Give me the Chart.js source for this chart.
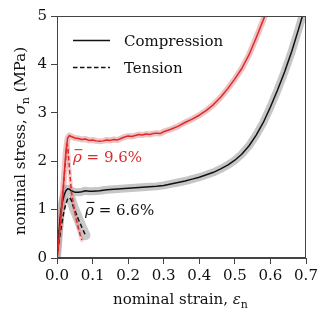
<!DOCTYPE html>
<html><head><meta charset="utf-8">
<script src="https://cdn.jsdelivr.net/npm/chart.js@4.4.1/dist/chart.umd.min.js"></script>
<style>html,body{margin:0;padding:0;background:#fff;overflow:hidden}</style>
</head><body>
<canvas id="c" width="326" height="323"></canvas>
<script>
// ---- data ----
const xTickLabels = ['0.0','0.1','0.2','0.3','0.4','0.5','0.6','0.7'];
const yTickLabels = ['0','1','2','3','4','5'];

const redCompStrain = [0,0.005,0.01,0.015,0.02,0.025,0.03,0.035,0.04,0.05,0.06,0.07,0.08,0.09,0.10,0.11,0.12,0.13,0.14,0.15,0.16,0.17,0.18,0.19,0.20,0.21,0.22,0.23,0.24,0.25,0.26,0.27,0.28,0.29,0.30,0.32,0.34,0.36,0.38,0.40,0.42,0.44,0.46,0.48,0.50,0.52,0.54,0.56,0.58,0.60];
const redCompStress = [0,0.35,0.75,1.2,1.7,2.2,2.48,2.53,2.51,2.48,2.47,2.45,2.46,2.43,2.44,2.42,2.41,2.42,2.44,2.43,2.45,2.44,2.47,2.50,2.52,2.51,2.53,2.55,2.54,2.56,2.55,2.57,2.58,2.57,2.61,2.66,2.72,2.80,2.87,2.95,3.05,3.17,3.32,3.50,3.70,3.92,4.20,4.55,4.92,5.30];

const redTenStrain = [0,0.005,0.01,0.015,0.02,0.025,0.028,0.031,0.035,0.04,0.045,0.05,0.055,0.06,0.065,0.07];
const redTenStress = [0,0.35,0.75,1.2,1.65,2.1,2.35,2.25,1.85,1.4,1.15,0.95,0.78,0.62,0.48,0.37];

const blackCompStrain = [0,0.005,0.01,0.015,0.02,0.025,0.03,0.035,0.04,0.05,0.06,0.07,0.08,0.09,0.10,0.12,0.14,0.16,0.18,0.20,0.22,0.24,0.26,0.28,0.30,0.32,0.34,0.36,0.38,0.40,0.42,0.44,0.46,0.48,0.50,0.52,0.54,0.56,0.58,0.60,0.62,0.64,0.66,0.68,0.70];
const blackCompStress = [0,0.5,0.92,1.15,1.3,1.39,1.43,1.42,1.39,1.36,1.36,1.37,1.39,1.38,1.38,1.39,1.41,1.42,1.43,1.44,1.45,1.46,1.47,1.48,1.50,1.53,1.56,1.59,1.63,1.67,1.72,1.77,1.84,1.92,2.02,2.15,2.32,2.54,2.80,3.12,3.47,3.85,4.27,4.75,5.25];

const blackTenStrain = [0,0.005,0.01,0.015,0.02,0.025,0.03,0.035,0.04,0.045,0.05,0.055,0.06,0.065,0.07,0.075,0.08];
const blackTenStress = [0,0.3,0.55,0.78,0.98,1.12,1.22,1.25,1.2,1.08,0.98,0.9,0.8,0.72,0.63,0.55,0.47];

const legendLabels = ['Compression','Tension'];
const annotRed = {strain:0.045, stress:1.98, value:'9.6%'};
const annotBlack = {strain:0.079, stress:0.89, value:'6.6%'};

// ---- styling ----
const FONT = 'DejaVu Serif';
const RED = '#dd2a2a';
const pts = (xs, ys, from) => xs.map((x,i)=>({x, y:ys[i]})).slice(from||0);

function lineDs(xs, ys, color, width, dash, order, from){
  return {data: pts(xs, ys, from), borderColor: color, borderWidth: width, borderDash: dash||[],
    pointRadius:0, fill:false, tension:0, clip:0, order, borderCapStyle: dash ? 'butt' : 'round', borderJoinStyle:'round'};
}

const datasets = [
  lineDs(blackCompStrain, blackCompStress, '#c6c6c6', 8, null, 3),
  lineDs(blackTenStrain, blackTenStress, '#c9c9c9', 10, null, 3, 6),
  lineDs(redCompStrain, redCompStress, 'rgba(215,110,110,0.42)', 6, null, 2),
  lineDs(redTenStrain, redTenStress, 'rgba(215,110,110,0.3)', 4, null, 2, 6),
  lineDs(blackCompStrain, blackCompStress, '#111', 1.5, null, 1),
  lineDs(blackTenStrain, blackTenStress, '#111', 1.5, [4.5,2.5], 1),
  lineDs(redCompStrain, redCompStress, RED, 1.5, null, 0),
  lineDs(redTenStrain, redTenStress, RED, 1.5, [4.5,2.5], 0)
];

function drawRich(ctx, parts, x, y, align){
  let total = 0;
  parts.forEach(p=>{ ctx.font = (p.italic?'italic ':'') + (p.size||15) + 'px "' + FONT + '"'; p.w = ctx.measureText(p.t).width; total += p.w; });
  let cx = align==='center' ? x - total/2 : x;
  parts.forEach(p=>{
    ctx.font = (p.italic?'italic ':'') + (p.size||15) + 'px "' + FONT + '"';
    ctx.fillText(p.t, cx, y + (p.dy||0));
    if (p.bar){ ctx.save(); ctx.strokeStyle = ctx.fillStyle; ctx.lineWidth = 1.1; ctx.beginPath();
      ctx.moveTo(cx+1.5, y-12.5); ctx.lineTo(cx+p.w+0.5, y-12.5); ctx.stroke(); ctx.restore(); }
    cx += p.w;
  });
}

const decor = {
  id:'decor',
  afterDraw(chart){
    const ctx = chart.ctx, a = chart.chartArea, xs = chart.scales.x, ys = chart.scales.y;
    ctx.save();
    // frame
    ctx.strokeStyle = '#444'; ctx.lineWidth = 1;
    ctx.strokeRect(a.left+0.5, a.top+0.5, a.right-a.left-1, a.bottom-a.top-1);
    ctx.textBaseline = 'alphabetic'; ctx.textAlign = 'left';
    // legend
    const lx0 = a.left + 16, lx1 = a.left + 53, tx = a.left + 67;
    const ly = [a.top + 24.5, a.top + 51.5];
    ctx.strokeStyle = '#111'; ctx.lineWidth = 1.5;
    ctx.beginPath(); ctx.moveTo(lx0, ly[0]); ctx.lineTo(lx1, ly[0]); ctx.stroke();
    ctx.setLineDash([4.5,2.5]);
    ctx.beginPath(); ctx.moveTo(lx0, ly[1]); ctx.lineTo(lx1, ly[1]); ctx.stroke();
    ctx.setLineDash([]);
    ctx.fillStyle = '#111'; ctx.font = '15px "' + FONT + '"';
    ctx.fillText(legendLabels[0], tx, ly[0] + 5);
    ctx.fillText(legendLabels[1], tx, ly[1] + 5);
    // annotations
    ctx.fillStyle = RED;
    drawRich(ctx, [{t:'ρ', italic:true, bar:true},{t:' = ' + annotRed.value}], xs.getPixelForValue(annotRed.strain), ys.getPixelForValue(annotRed.stress), 'left');
    ctx.fillStyle = '#111';
    drawRich(ctx, [{t:'ρ', italic:true, bar:true},{t:' = ' + annotBlack.value}], xs.getPixelForValue(annotBlack.strain), ys.getPixelForValue(annotBlack.stress), 'left');
    // axis titles
    drawRich(ctx, [{t:'nominal strain, '},{t:'ε', italic:true},{t:'n', size:11, dy:3.5}], (a.left+a.right)/2 - 1, 304, 'center');
    ctx.translate(25, 141); ctx.rotate(-Math.PI/2);
    drawRich(ctx, [{t:'nominal stress, '},{t:'σ', italic:true},{t:'n', size:11, dy:3.5},{t:' (MPa)'}], 0, 0, 'center');
    ctx.restore();
  }
};

new Chart(document.getElementById('c'), {
  type:'line',
  data:{datasets},
  options:{
    responsive:false, animation:false, devicePixelRatio:1,
    layout:{padding:{top:16, right:20, left:0, bottom:0}},
    plugins:{legend:{display:false}, tooltip:{enabled:false}},
    scales:{
      x:{type:'linear', min:0, max:0.7,
        afterFit(s){ s.height = 65; },
        afterBuildTicks(s){ s.ticks = xTickLabels.map(v=>({value:parseFloat(v)})); },
        ticks:{callback:(v,i)=>xTickLabels[i], font:{family:FONT, size:15}, color:'#111', padding:3, maxRotation:0, autoSkip:false},
        grid:{display:true, drawOnChartArea:false, drawTicks:true, tickLength:6, color:'#444', tickWidth:1},
        border:{display:true, color:'#444', width:1}},
      y:{type:'linear', min:0, max:5,
        afterFit(s){ s.width = 57; },
        afterBuildTicks(s){ s.ticks = yTickLabels.map(v=>({value:parseFloat(v)})); },
        ticks:{callback:(v,i)=>yTickLabels[i], font:{family:FONT, size:15}, color:'#111', padding:4, autoSkip:false},
        grid:{display:true, drawOnChartArea:false, drawTicks:true, tickLength:6, color:'#444', tickWidth:1},
        border:{display:true, color:'#444', width:1}}
    }
  },
  plugins:[decor]
});
</script>
</body></html>
